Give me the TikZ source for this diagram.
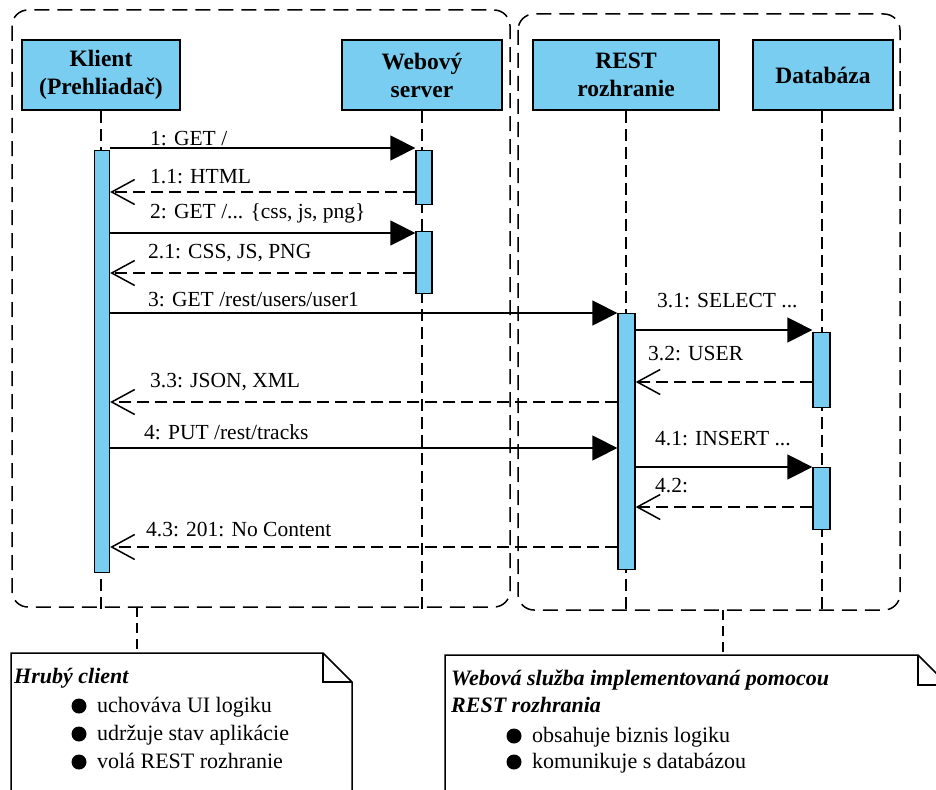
\documentclass[tikz,border=0pt]{standalone}
\usepackage{fontspec}
\setmainfont{Liberation Serif}
\usetikzlibrary{arrows.meta}
\definecolor{lblue}{RGB}{120,205,240}
\begin{document}
\begin{tikzpicture}[x=1pt,y=-1pt,
  hdr/.style={draw=black, line width=1.6pt, fill=lblue, inner sep=0pt, align=center,
    font=\bfseries\fontsize{23.5}{28}\selectfont},
  bar/.style={draw=black, line width=1.3pt, fill=lblue, inner sep=0pt, minimum width=15pt, anchor=north},
  life/.style={line width=1.3pt, dash pattern=on 12pt off 6pt},
  grp/.style={line width=1.5pt, dash pattern=on 15pt off 8pt, rounded corners=16pt},
  sync/.style={line width=1.5pt, -{Triangle[length=25pt,width=25pt]}},
  reply/.style={line width=1.5pt, dash pattern=on 12pt off 6pt, -{Straight Barb[length=23pt,width=25pt,line width=1.5pt]}},
  msg/.style={anchor=base west, inner sep=0pt, font=\fontsize{21.5}{26}\selectfont},
  notetxt/.style={anchor=base west, inner sep=0pt, font=\fontsize{22}{26}\selectfont},
  notehd/.style={anchor=base west, inner sep=0pt, font=\bfseries\itshape\fontsize{22}{26}\selectfont},
  notebox/.style={line width=1.5pt, fill=white},
  link/.style={line width=1.5pt, dash pattern=on 10pt off 6pt}]
\useasboundingbox (0,0) rectangle (936,789);
\clip (0,0) rectangle (936,789);

% group frames
\draw[grp] (12,10) rectangle (510,607);
\draw[grp] (518,14) rectangle (900,610);

% headers
\node[hdr, minimum width=158pt, minimum height=70pt] (kl) at (101,75) {Klient\\(Prehliadač)};
\node[hdr, minimum width=160pt, minimum height=70pt] (ws) at (422,75) {Webový\\server};
\node[hdr, minimum width=186pt, minimum height=70pt] (rs) at (626,75) {REST\\rozhranie};
\node[hdr, minimum width=140pt, minimum height=70pt] (db) at (823,75) {Databáza};

% lifeline ends
\coordinate (klE) at (101,613);
\coordinate (wsE) at (422,613);
\coordinate (rsE) at (626,613);
\coordinate (dbE) at (822,613);
\draw[life] (kl.south -| klE) -- (klE);
\draw[life] (ws.south -| wsE) -- (wsE);
\draw[life] (rs.south -| rsE) -- (rsE);
\draw[life] (db.south -| dbE) -- (dbE);

% activation bars
\node[bar, minimum height=422pt] (kbar) at (102,150) {};
\node[bar, minimum height=54pt, minimum width=16pt] (wbar1) at (424,150) {};
\node[bar, minimum height=62pt, minimum width=16pt] (wbar2) at (424,231) {};
\node[bar, minimum height=256pt, minimum width=17pt] (rbar) at (626.5,313) {};
\node[bar, minimum height=75pt, minimum width=17pt] (dbar1) at (821.5,332) {};
\node[bar, minimum height=62pt, minimum width=17pt] (dbar2) at (821.5,467) {};

% message rows
\coordinate (m1) at (0,148);
\coordinate (m11) at (0,192);
\coordinate (m2) at (0,233);
\coordinate (m21) at (0,273);
\coordinate (m3) at (0,313);
\coordinate (m31) at (0,330);
\coordinate (m32) at (0,382);
\coordinate (m33) at (0,402);
\coordinate (m4) at (0,448);
\coordinate (m41) at (0,467);
\coordinate (m42) at (0,507);
\coordinate (m43) at (0,547);

\draw[sync] (kbar.east |- m1) -- (wbar1.west |- m1);
\draw[reply] (wbar1.west |- m11) -- (kbar.east |- m11);
\draw[sync] (kbar.east |- m2) -- (wbar2.west |- m2);
\draw[reply] (wbar2.west |- m21) -- (kbar.east |- m21);
\draw[sync] (kbar.east |- m3) -- (rbar.west |- m3);
\draw[sync] (rbar.east |- m31) -- (dbar1.west |- m31);
\draw[reply] (dbar1.west |- m32) -- (rbar.east |- m32);
\draw[reply] (rbar.west |- m33) -- (kbar.east |- m33);
\draw[sync] (kbar.east |- m4) -- (rbar.west |- m4);
\draw[sync] (rbar.east |- m41) -- (dbar2.west |- m41);
\draw[reply] (dbar2.west |- m42) -- (rbar.east |- m42);
\draw[reply] (rbar.west |- m43) -- (kbar.east |- m43);

% labels
\node[msg] (l1) at (150,146) {1: GET /};
\node[msg] (l11) at (150,183) {1.1: HTML};
\node[msg] (l2) at (150,218) {2: GET /... \{css, js, png\}};
\node[msg] (l21) at (148,258) {2.1: CSS, JS, PNG};
\node[msg] (l3) at (148,306) {3: GET /rest/users/user1};
\node[msg] (l31) at (657,307) {3.1: SELECT ...};
\node[msg] (l32) at (648,360) {3.2: USER};
\node[msg] (l33) at (150,387) {3.3: JSON, XML};
\node[msg] (l4) at (144,439) {4: PUT /rest/tracks};
\node[msg] (l41) at (655,445) {4.1: INSERT ...};
\node[msg] (l42) at (655,492) {4.2:};
\node[msg] (l43) at (146,536) {4.3: 201: No Content};

% note links
\coordinate (g1) at (137,607);
\coordinate (n1) at (137,653);
\coordinate (g2) at (723,610);
\coordinate (n2) at (723,655);
\draw[link] (g1) -- (n1);
\draw[link] (g2) -- (n2);

% left note
\draw[notebox] (11,792) -- (11,653) -- (323,653) -- (352,682) -- (352,792);
\draw[line width=1.5pt] (323,653) -- (323,682) -- (352,682);
\node[notehd] (h1) at (14,683) {Hrubý client};
\fill (79,706) circle (7.5pt);
\fill (79,734) circle (7.5pt);
\fill (79,762) circle (7.5pt);
\node[notetxt] (t11) at (97,712) {uchováva UI logiku};
\node[notetxt] (t12) at (97,740) {udržuje stav aplikácie};
\node[notetxt] (t13) at (97,768) {volá REST rozhranie};

% right note
\draw[notebox] (445,792) -- (445,655) -- (918,655) -- (952,689) -- (952,792);
\draw[line width=1.5pt] (918,655) -- (918,685) -- (940,685);
\node[notehd] (h2a) at (451,685) {Webová služba implementovaná pomocou};
\node[notehd] (h2b) at (451,712) {REST rozhrania};
\fill (514,736) circle (7.5pt);
\fill (514,762) circle (7.5pt);
\node[notetxt] (t21) at (532,742) {obsahuje biznis logiku};
\node[notetxt] (t22) at (532,768) {komunikuje s databázou};
\end{tikzpicture}
\end{document}
